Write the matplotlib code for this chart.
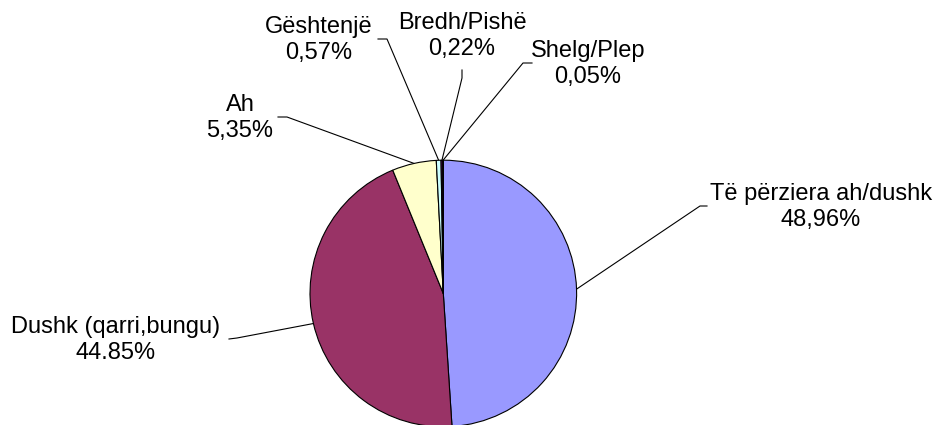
import numpy as np
import matplotlib
matplotlib.use('Agg')
import matplotlib.pyplot as plt

plt.rcParams['font.family'] = ['Liberation Sans', 'DejaVu Sans']

labels = ['Të përziera ah/dushk', 'Dushk (qarri,bungu)', 'Ah', 'Gështenjë', 'Bredh/Pishë', 'Shelg/Plep']
values = [48.96, 44.85, 5.35, 0.57, 0.22, 0.05]
pct_text = ['48,96%', '44.85%', '5,35%', '0,57%', '0,22%', '0,05%']
colors = ['#9999FF', '#993366', '#FFFFCC', '#CCFFFF', '#660066', '#FF8080']

# layout in pixels: pie centre / radius, label centre, leader elbow, leader end
W, H = 941, 425
cx, cy, R = 443.3, 293.5, 133.3
label_pos = [(821, 207), (116, 340), (240, 118), (319, 40), (462, 36), (588, 64)]
elbows = [(700, 206), (237, 338), (287, 117), (387, 39), (462, 78), (523, 63)]
ends = [(707, 206), (229, 339), (278, 117), (378, 39), (462, 70), (532, 63)]


def px(p):
    return ((p[0] - cx) / R, (cy - p[1]) / R)


fig = plt.figure(figsize=(W / 100, H / 100), dpi=100)
ax = fig.add_axes([0, 0, 1, 1])

wedges, _ = ax.pie(values, colors=colors, startangle=90, counterclock=False,
                   radius=1, center=(0, 0),
                   wedgeprops=dict(edgecolor='black', linewidth=0.8))

for i, w in enumerate(wedges):
    mid = np.deg2rad((w.theta1 + w.theta2) / 2)
    anchor = (np.cos(mid), np.sin(mid))
    e, t = px(elbows[i]), px(ends[i])
    ax.plot([anchor[0], e[0], t[0]], [anchor[1], e[1], t[1]],
            color='black', lw=0.8, zorder=0.5)
    lx, ly = px(label_pos[i])
    ax.text(lx, ly, f'{labels[i]}\n{pct_text[i]}', ha='center', va='center',
            fontsize=17, linespacing=1.28)

ax.set_xlim(-cx / R, (W - cx) / R)
ax.set_ylim(-(H - cy) / R, cy / R)
ax.set_aspect('auto')
ax.axis('off')

fig.savefig('out.png', dpi=100)
